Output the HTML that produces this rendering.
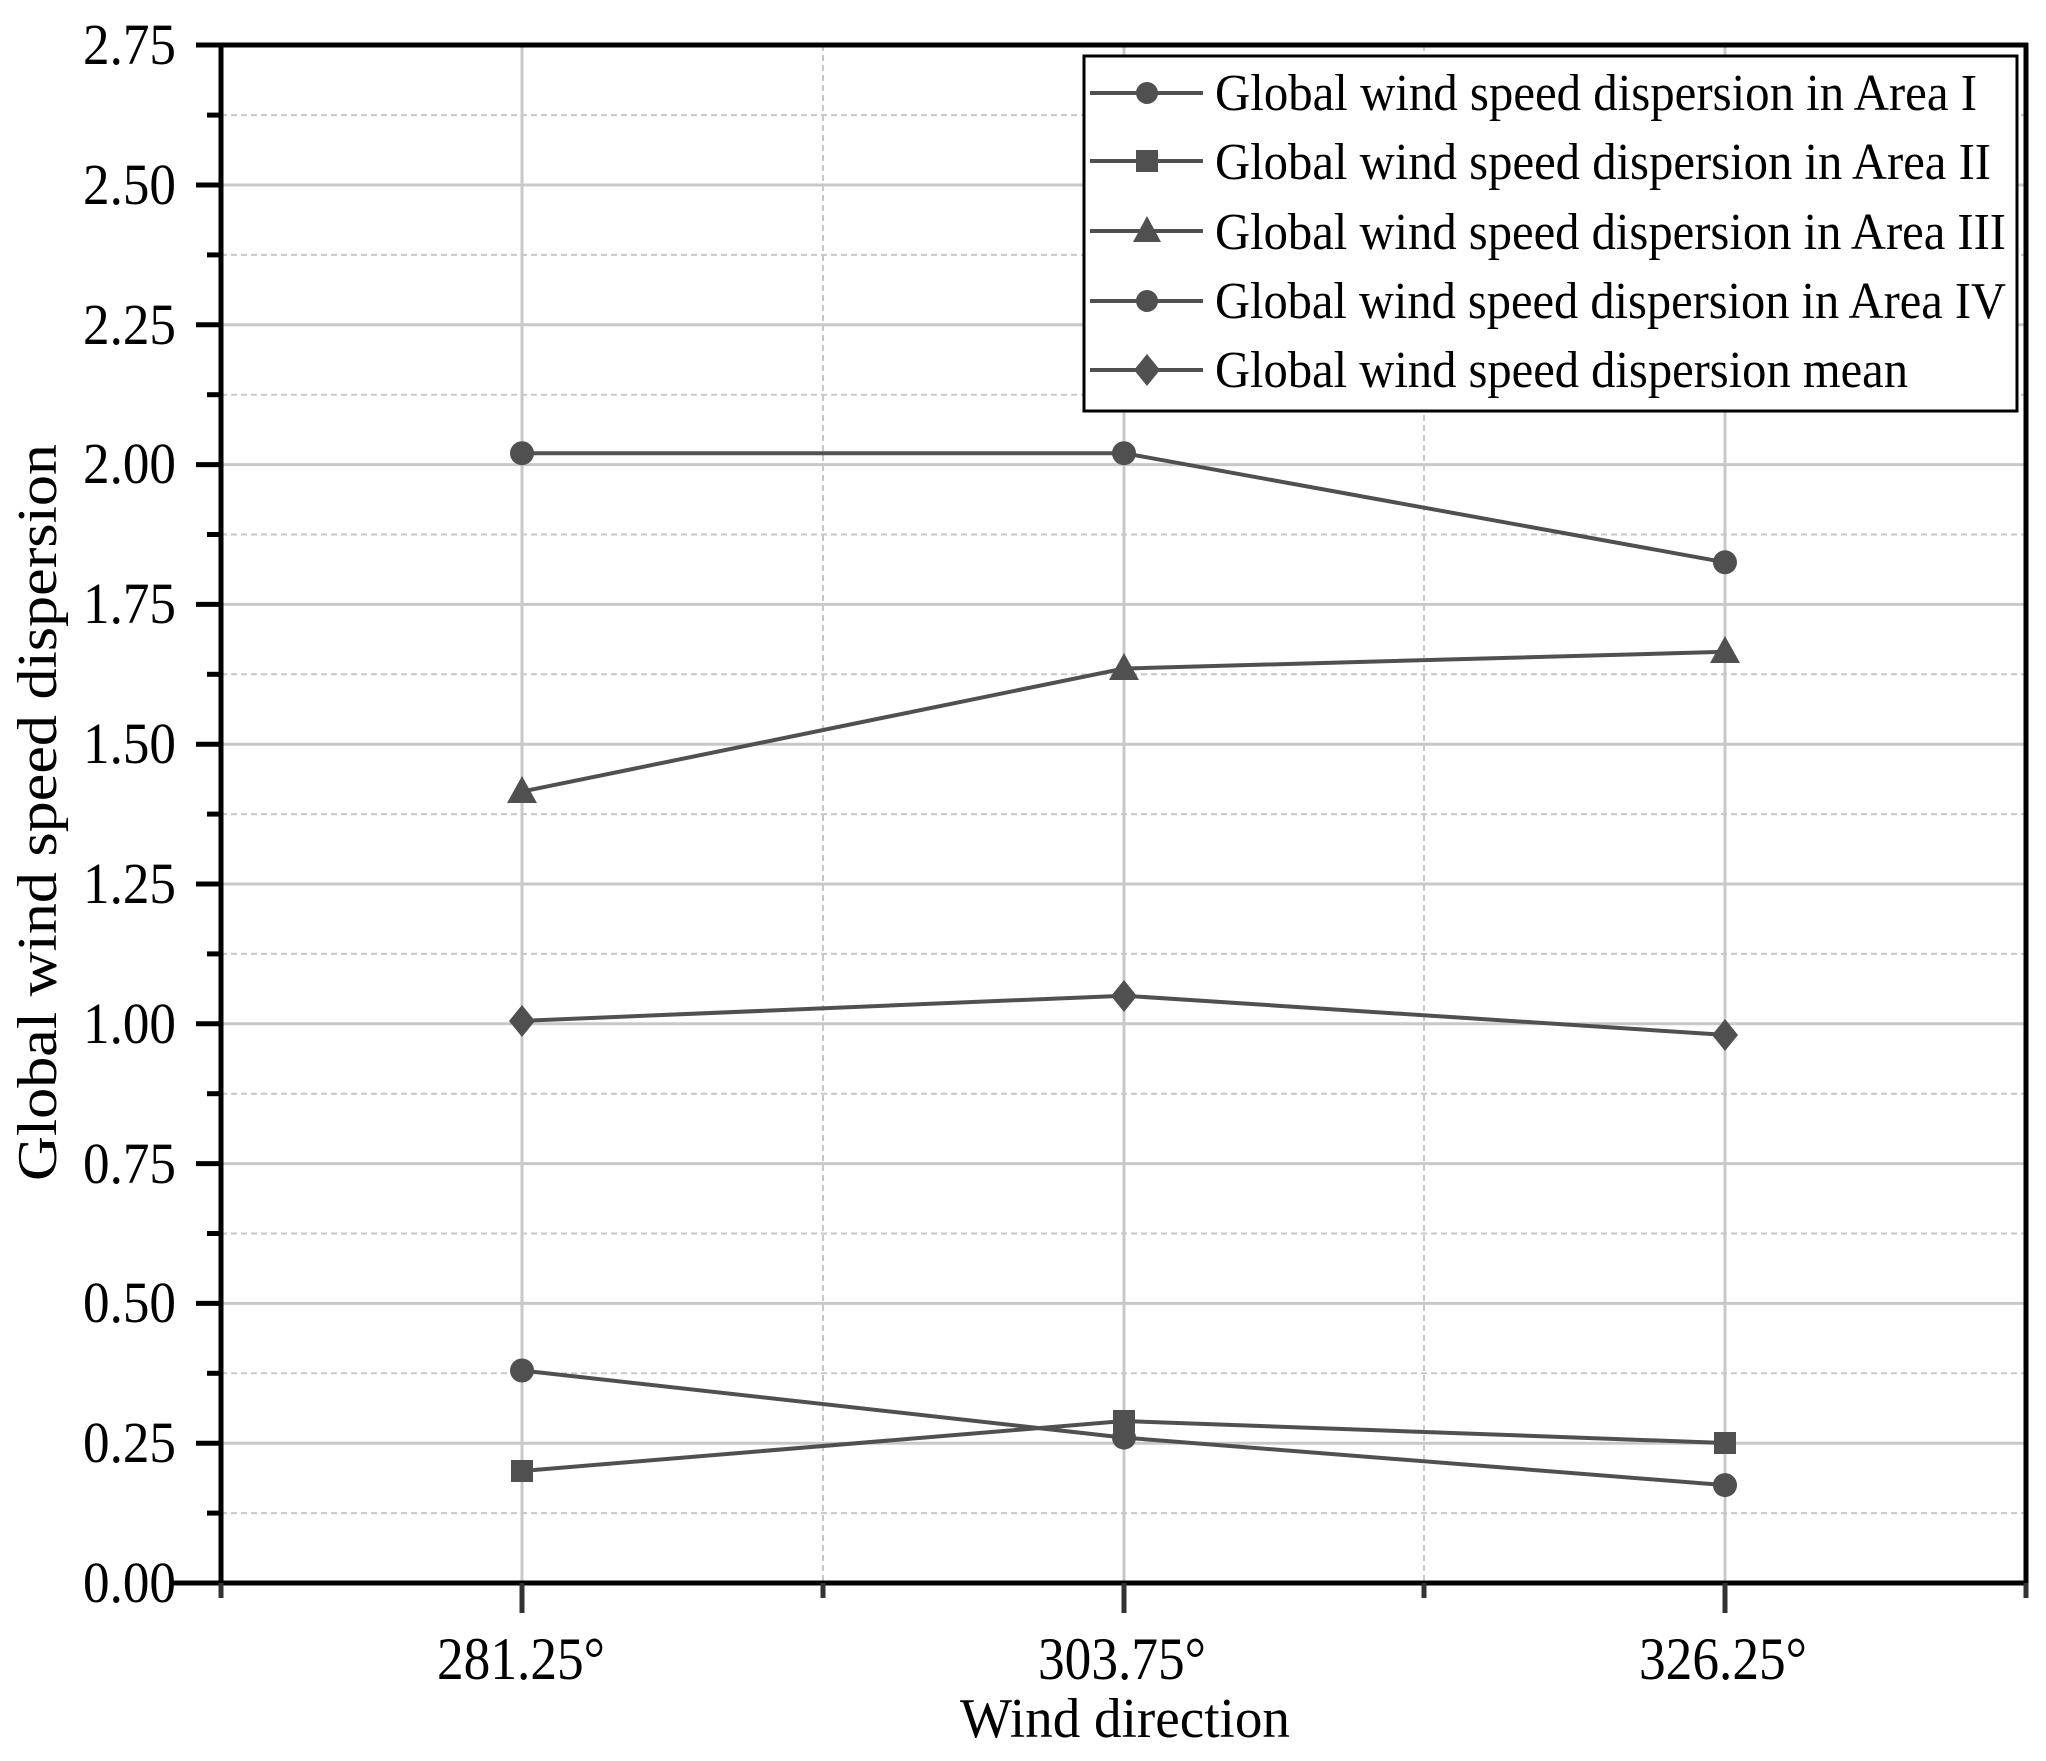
<!DOCTYPE html>
<html><head><meta charset="utf-8"><style>
html,body{margin:0;padding:0;background:#fff;}
svg{display:block;}
text{font-family:"Liberation Serif",serif;fill:#000;}
</style></head><body>
<svg width="2046" height="1761" viewBox="0 0 2046 1761" xmlns="http://www.w3.org/2000/svg">
<rect width="2046" height="1761" fill="#fff"/>
<!-- minor horizontal grid (dashed) -->
<g stroke="#c8c8c8" stroke-width="2" stroke-dasharray="6,4">
<line x1="221" x2="2026" y1="1513.1" y2="1513.1"/>
<line x1="221" x2="2026" y1="1373.3" y2="1373.3"/>
<line x1="221" x2="2026" y1="1233.5" y2="1233.5"/>
<line x1="221" x2="2026" y1="1093.7" y2="1093.7"/>
<line x1="221" x2="2026" y1="953.9" y2="953.9"/>
<line x1="221" x2="2026" y1="814.1" y2="814.1"/>
<line x1="221" x2="2026" y1="674.3" y2="674.3"/>
<line x1="221" x2="2026" y1="534.5" y2="534.5"/>
<line x1="221" x2="2026" y1="394.7" y2="394.7"/>
<line x1="221" x2="2026" y1="254.9" y2="254.9"/>
<line x1="221" x2="2026" y1="115.1" y2="115.1"/>
<line y1="45" y2="1583" x1="823" x2="823"/>
<line y1="45" y2="1583" x1="1424" x2="1424"/>
</g>
<!-- major grid -->
<g stroke="#c8c8c8" stroke-width="3">
<line x1="221" x2="2026" y1="1443.2" y2="1443.2"/>
<line x1="221" x2="2026" y1="1303.4" y2="1303.4"/>
<line x1="221" x2="2026" y1="1163.6" y2="1163.6"/>
<line x1="221" x2="2026" y1="1023.8" y2="1023.8"/>
<line x1="221" x2="2026" y1="884" y2="884"/>
<line x1="221" x2="2026" y1="744.2" y2="744.2"/>
<line x1="221" x2="2026" y1="604.4" y2="604.4"/>
<line x1="221" x2="2026" y1="464.6" y2="464.6"/>
<line x1="221" x2="2026" y1="324.8" y2="324.8"/>
<line x1="221" x2="2026" y1="185" y2="185"/>
<line y1="45" y2="1583" x1="522" x2="522"/>
<line y1="45" y2="1583" x1="1124" x2="1124"/>
<line y1="45" y2="1583" x1="1725" x2="1725"/>
</g>
<!-- series -->
<g stroke="#505050" stroke-width="4" fill="none">
<polyline points="522,453.2 1124,453.2 1725,562.3"/>
<polyline points="522,1471 1124,1421 1725,1443"/>
<polyline points="522,791.6 1124,668.5 1725,651.8"/>
<polyline points="522,1370.5 1124,1437.6 1725,1485.1"/>
<polyline points="522,1020.9 1124,995.7 1725,1034.9"/>
</g>
<g fill="#505050">
<circle cx="522" cy="453.2" r="12"/><circle cx="1124" cy="453.2" r="12"/><circle cx="1725" cy="562.3" r="12"/>
<rect x="511" y="1460" width="22" height="22"/><rect x="1113" y="1410" width="22" height="22"/><rect x="1714" y="1432" width="22" height="22"/>
<polygon points="522,776 507,803 537,803"/><polygon points="1124,653 1109,680 1139,680"/><polygon points="1725,636 1710,663 1740,663"/>
<circle cx="522" cy="1370.5" r="12"/><circle cx="1124" cy="1437.6" r="12"/><circle cx="1725" cy="1485.1" r="12"/>
<polygon points="522,1005 535,1021 522,1037 509,1021"/><polygon points="1124,980 1137,996 1124,1012 1111,996"/><polygon points="1725,1019 1738,1035 1725,1051 1712,1035"/>
</g>
<!-- axes frame -->
<g stroke="#000" stroke-width="5" fill="none">
<line x1="221" y1="43" x2="221" y2="1585"/>
<line x1="2026" y1="43" x2="2026" y2="1595"/>
<line x1="196" y1="45" x2="2028" y2="45"/>
<line x1="170" y1="1583" x2="2028" y2="1583"/>
</g>
<!-- y ticks -->
<g stroke="#000" stroke-width="5">
<line x1="196" x2="221" y1="185" y2="185"/><line x1="196" x2="221" y1="324.8" y2="324.8"/><line x1="196" x2="221" y1="464.6" y2="464.6"/><line x1="196" x2="221" y1="604.4" y2="604.4"/><line x1="196" x2="221" y1="744.2" y2="744.2"/><line x1="196" x2="221" y1="884" y2="884"/><line x1="196" x2="221" y1="1023.8" y2="1023.8"/><line x1="196" x2="221" y1="1163.6" y2="1163.6"/><line x1="196" x2="221" y1="1303.4" y2="1303.4"/><line x1="196" x2="221" y1="1443.2" y2="1443.2"/>
<line x1="207" x2="221" y1="115.1" y2="115.1"/><line x1="207" x2="221" y1="254.9" y2="254.9"/><line x1="207" x2="221" y1="394.7" y2="394.7"/><line x1="207" x2="221" y1="534.5" y2="534.5"/><line x1="207" x2="221" y1="674.3" y2="674.3"/><line x1="207" x2="221" y1="814.1" y2="814.1"/><line x1="207" x2="221" y1="953.9" y2="953.9"/><line x1="207" x2="221" y1="1093.7" y2="1093.7"/><line x1="207" x2="221" y1="1233.5" y2="1233.5"/><line x1="207" x2="221" y1="1373.3" y2="1373.3"/><line x1="207" x2="221" y1="1513.1" y2="1513.1"/>
</g>
<g stroke="#333" stroke-width="5">
<line x1="522" x2="522" y1="1583" y2="1613"/><line x1="1124" x2="1124" y1="1583" y2="1613"/><line x1="1725" x2="1725" y1="1583" y2="1613"/>
<line x1="823" x2="823" y1="1583" y2="1598"/><line x1="1424" x2="1424" y1="1583" y2="1598"/>
<line x1="221" x2="221" y1="1583" y2="1598"/><line x1="2026" x2="2026" y1="1583" y2="1598"/>
</g>
<!-- y tick labels -->
<g font-size="58" text-anchor="end">
<text x="176" y="64" textLength="93" lengthAdjust="spacingAndGlyphs">2.75</text>
<text x="176" y="204" textLength="93" lengthAdjust="spacingAndGlyphs">2.50</text>
<text x="176" y="344" textLength="93" lengthAdjust="spacingAndGlyphs">2.25</text>
<text x="176" y="483" textLength="93" lengthAdjust="spacingAndGlyphs">2.00</text>
<text x="176" y="623" textLength="93" lengthAdjust="spacingAndGlyphs">1.75</text>
<text x="176" y="763" textLength="93" lengthAdjust="spacingAndGlyphs">1.50</text>
<text x="176" y="903" textLength="93" lengthAdjust="spacingAndGlyphs">1.25</text>
<text x="176" y="1043" textLength="93" lengthAdjust="spacingAndGlyphs">1.00</text>
<text x="176" y="1183" textLength="93" lengthAdjust="spacingAndGlyphs">0.75</text>
<text x="176" y="1322" textLength="93" lengthAdjust="spacingAndGlyphs">0.50</text>
<text x="176" y="1462" textLength="93" lengthAdjust="spacingAndGlyphs">0.25</text>
<text x="176" y="1602" textLength="93" lengthAdjust="spacingAndGlyphs">0.00</text>
</g>
<!-- x tick labels -->
<g font-size="60">
<text x="437" y="1679" textLength="168" lengthAdjust="spacingAndGlyphs">281.25°</text>
<text x="1038" y="1679" textLength="168" lengthAdjust="spacingAndGlyphs">303.75°</text>
<text x="1639" y="1679" textLength="168" lengthAdjust="spacingAndGlyphs">326.25°</text>
</g>
<text x="960" y="1737" font-size="56" textLength="330" lengthAdjust="spacingAndGlyphs">Wind direction</text>
<text transform="translate(56,1181) rotate(-90)" x="0" y="0" font-size="56" textLength="737" lengthAdjust="spacingAndGlyphs">Global wind speed dispersion</text>
<!-- legend -->
<rect x="1084" y="56" width="933" height="355" fill="#fff" stroke="#000" stroke-width="3"/>
<g stroke="#505050" stroke-width="4">
<line x1="1090" x2="1203" y1="93" y2="93"/><line x1="1090" x2="1203" y1="161" y2="161"/><line x1="1090" x2="1203" y1="231" y2="231"/><line x1="1090" x2="1203" y1="301" y2="301"/><line x1="1090" x2="1203" y1="370" y2="370"/>
</g>
<g fill="#505050">
<circle cx="1147" cy="93" r="11"/>
<rect x="1136" y="150" width="22" height="22"/>
<polygon points="1147,216 1133,242 1161,242"/>
<circle cx="1147" cy="301" r="11"/>
<polygon points="1147,354 1160,370 1147,386 1134,370"/>
</g>
<g font-size="52">
<text x="1215" y="110" textLength="762" lengthAdjust="spacingAndGlyphs">Global wind speed dispersion in Area I</text>
<text x="1215" y="179" textLength="776" lengthAdjust="spacingAndGlyphs">Global wind speed dispersion in Area II</text>
<text x="1215" y="249" textLength="791" lengthAdjust="spacingAndGlyphs">Global wind speed dispersion in Area III</text>
<text x="1215" y="318" textLength="791" lengthAdjust="spacingAndGlyphs">Global wind speed dispersion in Area IV</text>
<text x="1215" y="387" textLength="693" lengthAdjust="spacingAndGlyphs">Global wind speed dispersion mean</text>
</g>
</svg>
</body></html>
